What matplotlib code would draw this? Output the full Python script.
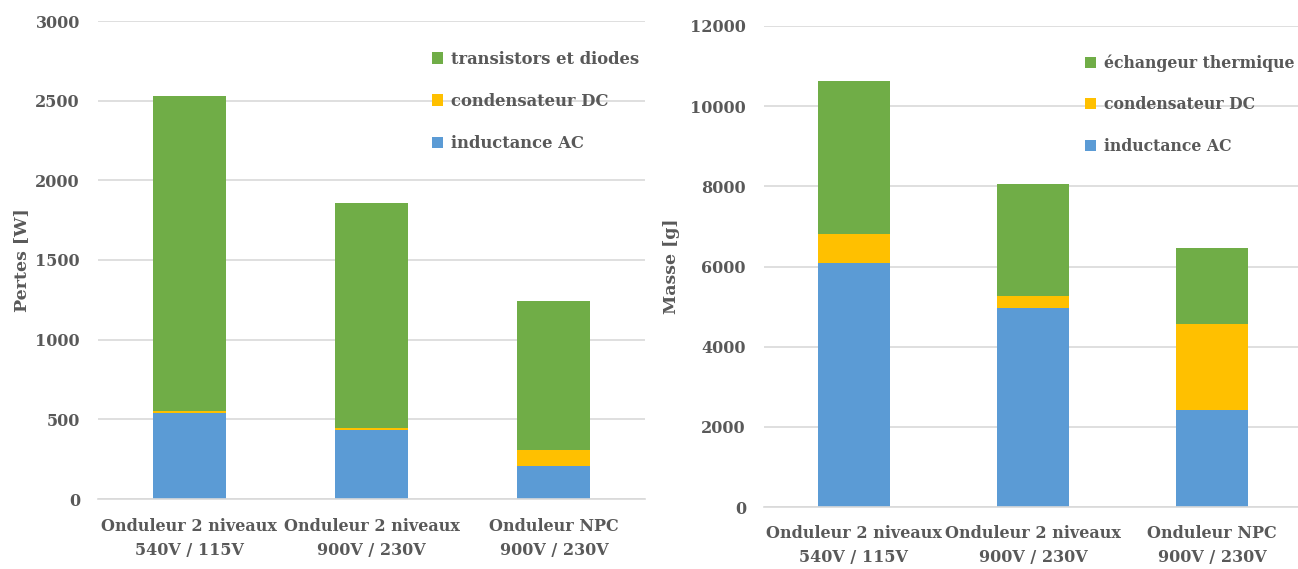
import matplotlib
matplotlib.use("Agg")
import matplotlib.pyplot as plt
import numpy as np

categories = ["Onduleur 2 niveaux\n540V / 115V", "Onduleur 2 niveaux\n900V / 230V", "Onduleur NPC\n900V / 230V"]

# Pertes [W]
pertes_inductance = [540, 430, 210]
pertes_condensateur = [10, 15, 100]
pertes_transistors = [1980, 1415, 930]

# Masse [g]
masse_inductance = [6080, 4960, 2420]
masse_condensateur = [720, 300, 2150]
masse_echangeur = [3820, 2800, 1900]

left_ticks = [0, 500, 1000, 1500, 2000, 2500, 3000]
right_ticks = [0, 2000, 4000, 6000, 8000, 10000, 12000]

BLUE = "#5b9bd5"
YELLOW = "#ffc000"
GREEN = "#70ad47"
TXT = "#595959"
GRID = "#d9d9d9"

plt.rcParams['font.family'] = ['DejaVu Serif']
plt.rcParams['font.weight'] = 'bold'

W, H = 1298, 569
fig = plt.figure(figsize=(W/100, H/100), dpi=100)

def px_axes(x0, x1, ytop, ybot):
    return fig.add_axes([x0/W, 1 - ybot/H, (x1-x0)/W, (ybot-ytop)/H])

ax1 = px_axes(98, 645, 21, 499)
ax2 = px_axes(764, 1302, 26, 507)

def style(ax, ticks, ylabel, xpad):
    x = np.arange(len(categories))
    ax.set_xlim(-0.5, len(categories) - 0.5)
    ax.set_ylim(ticks[0], ticks[-1])
    ax.set_yticks(ticks)
    ax.set_yticklabels([str(t) for t in ticks])
    ax.set_xticks(x)
    ax.set_xticklabels(categories, linespacing=1.5)
    for s in ["top", "right", "left"]:
        ax.spines[s].set_visible(False)
    ax.spines["bottom"].set_color(GRID)
    ax.spines["bottom"].set_linewidth(1.2)
    ax.tick_params(axis="both", length=0, colors=TXT, labelsize=11.5)
    ax.tick_params(axis="y", pad=13)
    ax.tick_params(axis="x", pad=xpad)
    ax.yaxis.grid(True, color=GRID, linewidth=1.2)
    ax.set_axisbelow(True)
    ax.set_ylabel(ylabel, color=TXT, fontsize=12.5, fontweight="bold")
    for lbl in ax.get_xticklabels() + ax.get_yticklabels():
        lbl.set_fontweight("bold")
    return x

x = style(ax1, left_ticks, "Pertes [W]", 14)
w = 0.4
b1 = ax1.bar(x, pertes_inductance, w, color=BLUE, label="inductance AC")
b2 = ax1.bar(x, pertes_condensateur, w, bottom=pertes_inductance, color=YELLOW, label="condensateur DC")
bot = np.array(pertes_inductance) + np.array(pertes_condensateur)
b3 = ax1.bar(x, pertes_transistors, w, bottom=bot, color=GREEN, label="transistors et diodes")
ax1.legend([b3, b2, b1], ["transistors et diodes", "condensateur DC", "inductance AC"],
           loc="upper left", bbox_to_anchor=(0.583, 0.969), frameon=False,
           handlelength=0.7, handleheight=0.7, handletextpad=0.5, labelspacing=1.55,
           prop={"size": 11.8, "weight": "bold"}, labelcolor=TXT)
ax1.yaxis.labelpad = 4

x = style(ax2, right_ticks, "Masse [g]", 13)
c1 = ax2.bar(x, masse_inductance, w, color=BLUE)
c2 = ax2.bar(x, masse_condensateur, w, bottom=masse_inductance, color=YELLOW)
bot = np.array(masse_inductance) + np.array(masse_condensateur)
c3 = ax2.bar(x, masse_echangeur, w, bottom=bot, color=GREEN)
ax2.legend([c3, c2, c1], ["échangeur thermique", "condensateur DC", "inductance AC"],
           loc="upper left", bbox_to_anchor=(0.57, 0.97), frameon=False,
           handlelength=0.7, handleheight=0.7, handletextpad=0.5, labelspacing=1.55,
           prop={"size": 11.3, "weight": "bold"}, labelcolor=TXT)
ax2.yaxis.labelpad = 7

fig.savefig("out.png", dpi=100)
